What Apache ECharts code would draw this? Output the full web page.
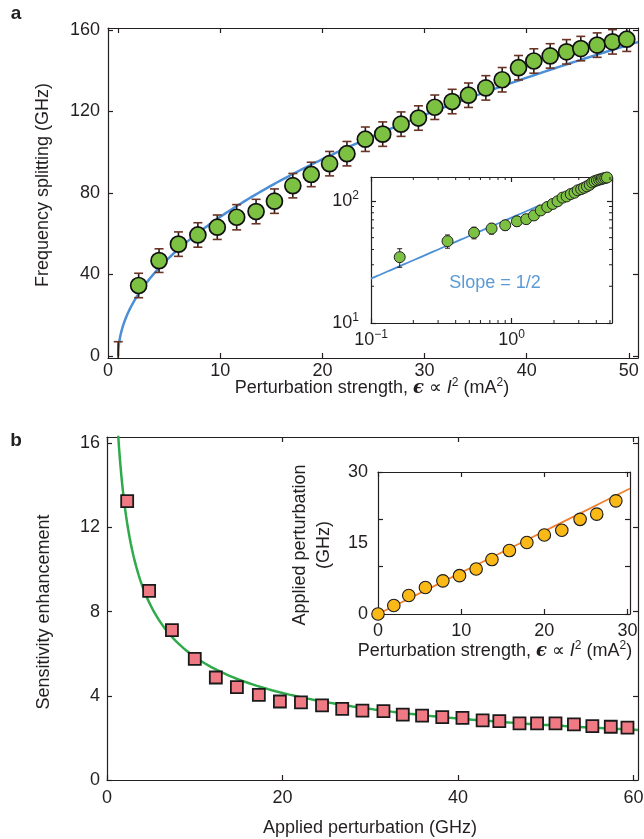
<!DOCTYPE html>
<html><head><meta charset="utf-8">
<script src="https://cdn.jsdelivr.net/npm/echarts@6/dist/echarts.min.js"></script>
<style>html,body{margin:0;padding:0;background:#fff}#c{width:644px;height:839px}</style>
</head><body><div id="c"></div>
<script>
// ---------- Panel a: frequency splitting vs perturbation strength ----------
const aX = [2.0, 4.0, 5.9, 7.8, 9.7, 11.6, 13.5, 15.3, 17.1, 18.9, 20.7, 22.4, 24.2, 25.9, 27.7, 29.4, 31.0, 32.7, 34.3, 36.0, 37.6, 39.2, 40.7, 42.3, 43.9, 45.3, 46.9, 48.4, 49.8];
const aY = [34.6, 46.8, 54.9, 59.4, 63.2, 68.1, 70.9, 76.0, 83.6, 89.1, 94.4, 99.3, 106.4, 108.9, 113.8, 116.8, 122.1, 124.9, 128.0, 131.6, 135.6, 141.5, 144.8, 147.3, 149.3, 150.9, 152.6, 154.2, 155.5];
const aErr = [6.0, 5.8, 6.0, 6.0, 6.0, 6.2, 6.0, 6.0, 6.0, 6.0, 6.0, 6.0, 6.0, 6.0, 6.0, 6.0, 6.0, 6.0, 6.0, 6.0, 6.0, 6.0, 6.0, 6.0, 6.0, 6.0, 6.0, 6.0, 6.0];
const aOriginX = [0];
const aOriginY = [0];
const aOriginErr = [7];
const aFitCoef = 21.6;           // fit: splitting = k * sqrt(eps)
// Panel a inset (log-log)
const aInX = [0.16, 0.35, 0.54, 0.72, 0.90, 1.09, 1.27, 1.44, 1.61, 1.79, 1.96, 2.12, 2.30, 2.46, 2.63, 2.80, 2.95, 3.12, 3.27, 3.43, 3.59, 3.74, 3.88, 4.04, 4.19, 4.33, 4.48, 4.63, 4.76];
const aInFitCoef = 73;           // slope 1/2 line: y = k * x^0.5
const aInFitRange = [0.1, 1.6];
const aInMinorX = [0.2, 0.3, 0.4, 0.5, 0.6, 0.7, 0.8, 0.9, 2, 3, 4, 5];
const aInMinorY = [20, 30, 40, 50, 60, 70, 80, 90];

// ---------- Panel b: sensitivity enhancement ----------
const bX = [2.3, 4.8, 7.4, 10.0, 12.4, 14.8, 17.3, 19.7, 22.1, 24.5, 26.8, 29.1, 31.5, 33.7, 35.9, 38.2, 40.5, 42.8, 44.7, 47.0, 49.0, 51.1, 53.2, 55.3, 57.4, 59.3];
const bY = [13.25, 8.99, 7.12, 5.76, 4.87, 4.41, 4.05, 3.73, 3.69, 3.55, 3.38, 3.30, 3.27, 3.11, 3.06, 2.99, 2.95, 2.83, 2.80, 2.69, 2.69, 2.69, 2.64, 2.56, 2.53, 2.49];
const bFitCoef = 18.5;           // fit: enhancement = k / sqrt(applied)
// Panel b inset
const bInX = [0, 1.9, 3.7, 5.7, 7.8, 9.8, 11.8, 13.7, 15.8, 17.9, 20.0, 22.1, 24.3, 26.3, 28.6];
const bInY = [0, 1.8, 3.9, 5.6, 7.0, 8.1, 9.5, 11.5, 13.4, 15.1, 16.7, 17.7, 20.0, 21.1, 23.9];
const bInFitSlope = 0.875;

// tick labels
const aXTicks = [0, 10, 20, 30, 40, 50];
const aYTicks = [0, 40, 80, 120, 160];
const bXTicks = [0, 20, 40, 60];
const bYTicks = [0, 4, 8, 12, 16];
const bInXTicks = [0, 10, 20, 30];
const bInYTicks = [0, 10, 20, 30];
const bInYLabels = [0, 15, 30];

// ---------- style ----------
const TXT = '#231f20';
const FONT = '"Liberation Sans", Arial, Helvetica, sans-serif';
const FS = 18;

function sampleLin(x0, x1, n, fn, pw) {
  const out = [];
  for (let i = 0; i <= n; i++) { const x = x0 + (x1 - x0) * Math.pow(i / n, pw); out.push([x, fn(x)]); }
  return out;
}
function sampleLog(x0, x1, n, fn) {
  const out = [], l0 = Math.log10(x0), l1 = Math.log10(x1);
  for (let i = 0; i <= n; i++) { const x = Math.pow(10, l0 + (l1 - l0) * i / n); out.push([x, fn(x)]); }
  return out;
}

function vAxis(gi, pos, min, max, ticks, labels, margin, fmt) {
  return {
    gridIndex: gi, type: 'value', position: pos, min: min, max: max,
    axisLine: { show: true, onZero: false, lineStyle: { color: TXT, width: 1.2 } },
    axisTick: { show: true, inside: true, length: 5, customValues: ticks, lineStyle: { color: TXT, width: 1.2 } },
    axisLabel: labels ? { show: true, customValues: labels, margin: margin, fontSize: FS, color: TXT, fontFamily: FONT, formatter: fmt } : { show: false },
    splitLine: { show: false }
  };
}
const supRich = {
  b: { fontSize: FS, lineHeight: 22, fontFamily: FONT, color: TXT },
  s: { fontSize: 12, lineHeight: 12, verticalAlign: 'top', fontFamily: FONT, color: TXT }
};
function powFmt(v) {
  const e = Math.round(Math.log10(v));
  return '{b|10}{s|' + (e < 0 ? '\u2212' + (-e) : e) + '}';
}
function logAxis(gi, pos, min, max, labels, margin) {
  return {
    gridIndex: gi, type: 'log', logBase: 10, position: pos, min: min, max: max,
    axisLine: { show: true, onZero: false, lineStyle: { color: TXT, width: 1.2 } },
    axisTick: { show: true, inside: true, length: 5, lineStyle: { color: TXT, width: 1.2 } },
    minorTick: { show: false },
    axisLabel: labels ? { show: true, margin: margin, formatter: powFmt, rich: supRich, showMaxLabel: false } : { show: false },
    splitLine: { show: false }
  };
}

const aInYMin = 10, aInYMax = 157, aInXMin = 0.1, aInXMax = 5.17;

function errRender(cap, stemColor, capColor, lw) {
  return function (params, api) {
    const x = api.value(0), lo = api.value(1), hi = api.value(2);
    const p1 = api.coord([x, hi]), p2 = api.coord([x, lo]);
    return { type: 'group', children: [
      { type: 'line', shape: { x1: p1[0], y1: p1[1], x2: p2[0], y2: p2[1] }, style: { stroke: stemColor, lineWidth: lw } },
      { type: 'line', shape: { x1: p1[0] - cap, y1: p1[1], x2: p1[0] + cap, y2: p1[1] }, style: { stroke: capColor, lineWidth: lw } },
      { type: 'line', shape: { x1: p2[0] - cap, y1: p2[1], x2: p2[0] + cap, y2: p2[1] }, style: { stroke: capColor, lineWidth: lw } }
    ] };
  };
}

const errA = aX.map((x, i) => [x, aY[i] - aErr[i], aY[i] + aErr[i]]);
const errOrigin = aOriginX.map((x, i) => [x, aOriginY[i] - aOriginErr[i], aOriginY[i] + aOriginErr[i]]);
const errAIn = aInX.map((x, i) => [x, aY[i] - aErr[i], aY[i] + aErr[i]]);

const rich = {
  n: { fontSize: FS, lineHeight: 22, fontFamily: FONT, fill: TXT },
  e: { fontSize: FS, lineHeight: 22, fontFamily: '"DejaVu Serif", serif', fontWeight: 'bold', fontStyle: 'italic', fill: TXT },
  i: { fontSize: FS, lineHeight: 22, fontFamily: FONT, fontStyle: 'italic', fill: TXT },
  s: { fontSize: 12, lineHeight: 12, verticalAlign: 'top', fontFamily: FONT, fill: TXT }
};
const epsTitle = '{n|Perturbation strength, }{e|\u03F5}{n| \u221D }{i|I}{s|2}{n| (mA}{s|2}{n|)}';

const chart = echarts.init(document.getElementById('c'), null, { renderer: 'canvas' });
chart.setOption({
  backgroundColor: '#fff',
  animation: false,
  textStyle: { fontFamily: FONT },
  grid: [
    { left: 108, top: 28, width: 530, height: 330, outerBoundsMode: 'none' },
    { left: 371, top: 177, width: 241, height: 146, outerBoundsMode: 'none' },
    { left: 107, top: 437, width: 531, height: 343, outerBoundsMode: 'none' },
    { left: 378, top: 472, width: 252, height: 142, outerBoundsMode: 'none' }
  ],
  xAxis: [
    vAxis(0, 'bottom', -1, 50.9, aXTicks, [-1, 10, 20, 30, 40, 50], 4, v => (v < 0 ? '0' : String(v))),
    vAxis(0, 'top', -1, 50.9, aXTicks, null),
    logAxis(1, 'bottom', aInXMin, aInXMax, true, 6),
    logAxis(1, 'top', aInXMin, aInXMax, false),
    vAxis(2, 'bottom', 0, 60.5, bXTicks, bXTicks, 9),
    vAxis(2, 'top', 0, 60.5, bXTicks, null),
    vAxis(3, 'bottom', 0, 30.3, bInXTicks, bInXTicks, 8),
    vAxis(3, 'top', 0, 30.3, bInXTicks, null)
  ],
  yAxis: [
    vAxis(0, 'left', -1, 161, aYTicks, aYTicks, 8),
    vAxis(0, 'right', -1, 161, aYTicks, null),
    logAxis(1, 'left', aInYMin, aInYMax, true, 12),
    logAxis(1, 'right', aInYMin, aInYMax, false),
    vAxis(2, 'left', 0, 16.3, bYTicks, bYTicks, 7),
    vAxis(2, 'right', 0, 16.3, bYTicks, null),
    vAxis(3, 'left', 0, 30, bInYTicks, bInYLabels, 10),
    vAxis(3, 'right', 0, 30, bInYTicks, null)
  ],
  series: [
    // panel a
    { type: 'line', xAxisIndex: 0, yAxisIndex: 0, data: sampleLin(0, 50.9, 300, x => aFitCoef * Math.sqrt(x), 2),
      showSymbol: false, lineStyle: { color: '#4b8fd6', width: 2.5 }, z: 2, silent: true },
    { type: 'custom', xAxisIndex: 0, yAxisIndex: 0, data: errA, encode: { x: 0, y: [1, 2] }, clip: true,
      renderItem: errRender(4.5, '#2a1a15', '#6b3426', 1.6), z: 3 },
    { type: 'custom', xAxisIndex: 0, yAxisIndex: 0, data: errOrigin, encode: { x: 0, y: [1, 2] }, clip: true,
      renderItem: errRender(4.5, '#2a1a15', '#6b3426', 1.6), z: 3 },
    { type: 'scatter', xAxisIndex: 0, yAxisIndex: 0, data: aX.map((x, i) => [x, aY[i]]), symbol: 'circle', symbolSize: 16,
      itemStyle: { color: '#7dc142', borderColor: '#111', borderWidth: 1.7, opacity: 1 }, z: 4, clip: false },
    // panel a inset
    { type: 'line', xAxisIndex: 2, yAxisIndex: 2, data: sampleLog(aInFitRange[0], aInFitRange[1], 60, x => aInFitCoef * Math.sqrt(x)),
      showSymbol: false, lineStyle: { color: '#4b8fd6', width: 1.8 }, z: 2, silent: true },
    { type: 'custom', xAxisIndex: 2, yAxisIndex: 2, data: errAIn, encode: { x: 0, y: [1, 2] }, clip: true,
      renderItem: errRender(2.5, '#2a1a15', '#2a1a15', 1), z: 3 },
    { type: 'scatter', xAxisIndex: 2, yAxisIndex: 2, data: aInX.map((x, i) => [x, aY[i]]), symbol: 'circle', symbolSize: 11,
      itemStyle: { color: '#7dc142', borderColor: '#222', borderWidth: 1, opacity: 1 }, z: 4, clip: false },
    { type: 'custom', xAxisIndex: 2, yAxisIndex: 2, data: aInMinorX.map(v => [v, aInYMin]), encode: { x: 0, y: 1 }, z: 5,
      renderItem: function (params, api) {
        const v = api.value(0); const pb = api.coord([v, aInYMin]); const pt = api.coord([v, aInYMax]);
        return { type: 'group', children: [
          { type: 'line', shape: { x1: pb[0], y1: pb[1], x2: pb[0], y2: pb[1] - 3 }, style: { stroke: TXT, lineWidth: 1 } },
          { type: 'line', shape: { x1: pt[0], y1: pt[1], x2: pt[0], y2: pt[1] + 3 }, style: { stroke: TXT, lineWidth: 1 } }
        ] };
      } },
    { type: 'custom', xAxisIndex: 2, yAxisIndex: 2, data: aInMinorY.map(v => [aInXMin, v]), encode: { x: 0, y: 1 }, z: 5,
      renderItem: function (params, api) {
        const v = api.value(1); const pl = api.coord([aInXMin, v]); const pr = api.coord([aInXMax, v]);
        return { type: 'group', children: [
          { type: 'line', shape: { x1: pl[0], y1: pl[1], x2: pl[0] + 3, y2: pl[1] }, style: { stroke: TXT, lineWidth: 1 } },
          { type: 'line', shape: { x1: pr[0], y1: pr[1], x2: pr[0] - 3, y2: pr[1] }, style: { stroke: TXT, lineWidth: 1 } }
        ] };
      } },
    // panel b
    { type: 'line', xAxisIndex: 4, yAxisIndex: 4, data: sampleLin(1.0, 60.5, 300, x => bFitCoef / Math.sqrt(x), 2),
      showSymbol: false, lineStyle: { color: '#2eaa4a', width: 2.5 }, z: 2, silent: true },
    { type: 'scatter', xAxisIndex: 4, yAxisIndex: 4, data: bX.map((x, i) => [x, bY[i]]), symbol: 'rect', symbolSize: 12,
      itemStyle: { color: '#f07a84', borderColor: '#1a1a1a', borderWidth: 1.8, opacity: 1 }, z: 4, clip: false },
    // panel b inset
    { type: 'line', xAxisIndex: 6, yAxisIndex: 6, data: sampleLin(0, 30.3, 10, x => bInFitSlope * x, 1),
      showSymbol: false, lineStyle: { color: '#f08030', width: 1.8 }, z: 2, silent: true },
    { type: 'scatter', xAxisIndex: 6, yAxisIndex: 6, data: bInX.map((x, i) => [x, bInY[i]]), symbol: 'circle', symbolSize: 12.5,
      itemStyle: { color: '#fbb917', borderColor: '#1a1a1a', borderWidth: 1.1, opacity: 1 }, z: 4, clip: false }
  ],
  graphic: [
    { type: 'text', x: 16, y: 14, style: { text: 'a', font: 'bold 19px ' + FONT, fill: TXT, align: 'center', verticalAlign: 'middle' } },
    { type: 'text', x: 16, y: 441, style: { text: 'b', font: 'bold 19px ' + FONT, fill: TXT, align: 'center', verticalAlign: 'middle' } },
    { type: 'text', x: 43, y: 185, rotation: Math.PI / 2, style: { text: 'Frequency splitting (GHz)', font: FS + 'px ' + FONT, fill: TXT, align: 'center', verticalAlign: 'middle' } },
    { type: 'text', x: 372, y: 388, style: { text: epsTitle, rich: rich, fill: TXT, align: 'center', verticalAlign: 'middle' } },
    { type: 'text', x: 495, y: 283, style: { text: 'Slope = 1/2', font: FS + 'px ' + FONT, fill: '#5b9bd5', align: 'center', verticalAlign: 'middle' } },
    { type: 'text', x: 44, y: 612, rotation: Math.PI / 2, style: { text: 'Sensitivity enhancement', font: FS + 'px ' + FONT, fill: TXT, align: 'center', verticalAlign: 'middle' } },
    { type: 'text', x: 370, y: 828, style: { text: 'Applied perturbation (GHz)', font: FS + 'px ' + FONT, fill: TXT, align: 'center', verticalAlign: 'middle' } },
    { type: 'text', x: 312, y: 545, rotation: Math.PI / 2, style: { text: 'Applied perturbation\n(GHz)', font: FS + 'px ' + FONT, lineHeight: 24, fill: TXT, align: 'center', verticalAlign: 'middle' } },
    { type: 'text', x: 495, y: 651, style: { text: epsTitle, rich: rich, fill: TXT, align: 'center', verticalAlign: 'middle' } }
  ]
});
</script>
</body></html>
